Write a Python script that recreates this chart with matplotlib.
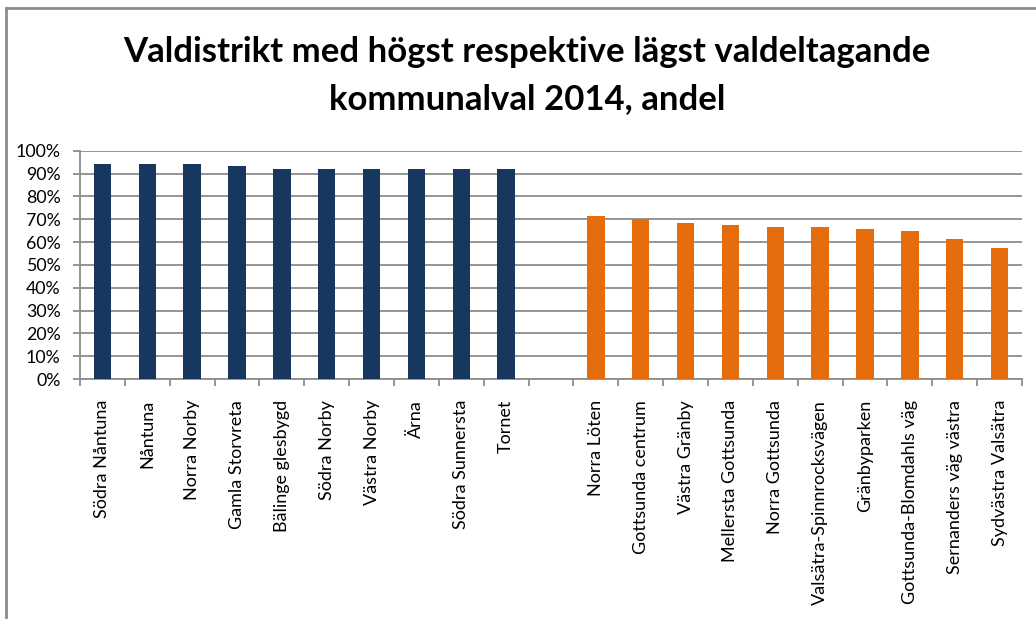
import matplotlib
matplotlib.use("Agg")
import matplotlib.pyplot as plt
from matplotlib.ticker import PercentFormatter, FixedLocator
from matplotlib.lines import Line2D

high_names = ["Södra Nåntuna", "Nåntuna", "Norra Norby", "Gamla Storvreta",
              "Bälinge glesbygd", "Södra Norby", "Västra Norby", "Ärna",
              "Södra Sunnersta", "Tornet"]
high_vals = [0.940, 0.940, 0.940, 0.931, 0.921, 0.921, 0.921, 0.921, 0.921, 0.921]

low_names = ["Norra Löten", "Gottsunda centrum", "Västra Gränby",
             "Mellersta Gottsunda", "Norra Gottsunda", "Valsätra-Spinnrocksvägen",
             "Gränbyparken", "Gottsunda-Blomdahls väg", "Sernanders väg västra",
             "Sydvästra Valsätra"]
low_vals = [0.714, 0.699, 0.683, 0.674, 0.666, 0.666, 0.657, 0.648, 0.613, 0.574]

title_lines = ["Valdistrikt med högst respektive lägst valdeltagande",
               "kommunalval 2014, andel"]

navy = "#17375E"
orange = "#E46C0A"
grey = "#8C8C8C"

plt.rcParams['font.family'] = ['Lato', 'DejaVu Sans']

W, H = 1036, 619
fig = plt.figure(figsize=(W / 100, H / 100), dpi=100)
ax = fig.add_axes([80 / W, (H - 379) / H, (1022 - 80) / W, (379 - 150.7) / H])

labels = high_names + [""] + low_names
n = len(labels)
xh = list(range(len(high_names)))
xl = list(range(len(high_names) + 1, n))

ax.set_axisbelow(True)
ax.yaxis.grid(True, color=grey, linewidth=1.3)
ax.bar(xh, high_vals, width=0.39, color=navy, zorder=3)
ax.bar(xl, low_vals, width=0.39, color=orange, zorder=3)

ax.set_xlim(-0.5, n - 0.5)
ax.set_ylim(0, 1.0)
ax.set_yticks([i / 10 for i in range(11)])
ax.yaxis.set_major_formatter(PercentFormatter(1.0, decimals=0))

ax.set_xticks(range(n))
ax.set_xticklabels(labels, rotation=90, va="top", ha="center")
ax.xaxis.set_minor_locator(FixedLocator([i - 0.5 for i in range(n + 1)]))
ax.tick_params(axis="x", which="major", length=0, pad=15, labelsize=13)
ax.tick_params(axis="x", which="minor", length=5, width=1.3, color=grey, direction="out")
ax.tick_params(axis="y", which="major", length=5, width=1.3, color=grey, pad=9, labelsize=12.8)

for s in ["top", "right"]:
    ax.spines[s].set_visible(False)
for s in ["left", "bottom"]:
    ax.spines[s].set_color(grey)
    ax.spines[s].set_linewidth(1.3)

fig.text(527 / W, 1 - 52 / H, title_lines[0], ha="center", va="center",
         fontsize=25, fontweight="bold")
fig.text(527 / W, 1 - 99 / H, title_lines[1], ha="center", va="center",
         fontsize=25, fontweight="bold")

# outer chart border
fig.add_artist(Line2D([6 / W, 1.0], [1 - 8 / H, 1 - 8 / H], transform=fig.transFigure,
                      color=grey, linewidth=2))
fig.add_artist(Line2D([6 / W, 6 / W], [0, 1 - 8 / H], transform=fig.transFigure,
                      color=grey, linewidth=2))

fig.savefig("out.png", dpi=100)
